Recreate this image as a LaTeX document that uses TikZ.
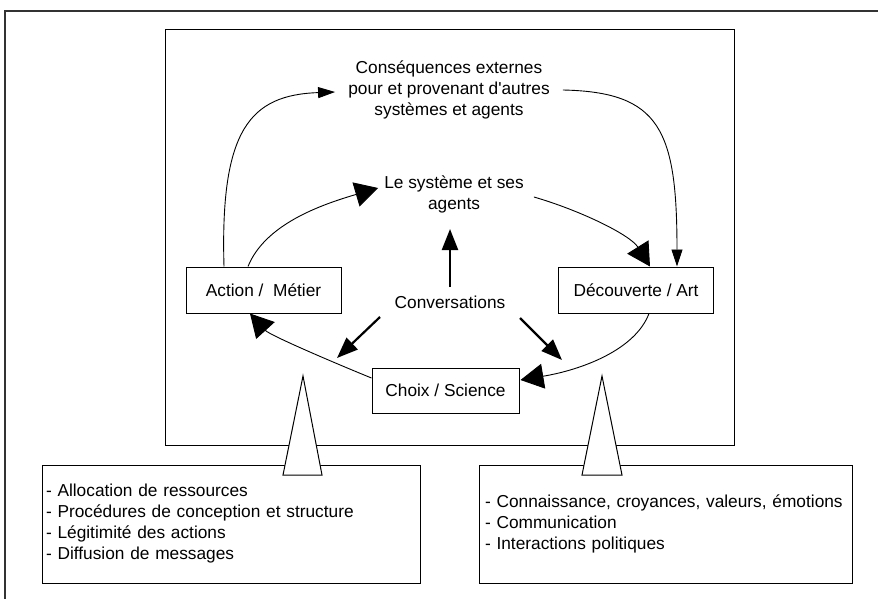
\documentclass[tikz,border=0pt]{standalone}
\usepackage{fontspec}
\setmainfont{Liberation Sans}[Ligatures=TeXOff]
\usetikzlibrary{arrows.meta,calc}

\tikzset{
  box/.style={draw,line width=1pt,minimum width=155pt,minimum height=46pt,inner sep=0pt},
  txt/.style={align=center,inner sep=0pt},
  cycleline/.style={line width=0.9pt},
  bighead/.style={-{Triangle[length=23pt,width=25pt]}},
  smallhead/.style={-{Triangle[length=17pt,width=11pt]}},
  push/.style={line width=2.2pt,-{Triangle[length=21pt,width=16pt]}},
  listbox/.style={draw,line width=1pt,align=left,minimum height=118pt,inner xsep=4pt},
  callout/.style={draw,fill=white,line width=1pt},
}

\begin{document}
\begin{tikzpicture}[x=1pt,y=-1pt,font=\fontsize{17.3}{21}\selectfont]
  \useasboundingbox (0,0) rectangle (878,599);
  \draw[line width=1.3pt,black!80] (878,11) -- (5,11) -- (5,599);
  \draw[line width=1pt] (165,30) rectangle (734,445);

  \node (cons)   at (449,90)      [txt] {Conséquences externes\\pour et provenant d'autres\\systèmes et agents};
  \node (sys)    at (454,194)     [txt] {Le système et ses\\agents};
  \node (conv)   at (450,302)     [txt] {Conversations};
  \node (action) at (263.5,290)   [box] {Action / \ Métier};
  \node (decouv) at (636,290)     [box] {Découverte / Art};
  \node (choix)  at (445.5,390.5) [box,minimum width=147pt,minimum height=45pt] {Choix / Science};

  \draw[cycleline,smallhead] ($(action.north)+(-39.5,0)$) .. controls +(-4,-137) and +(-85,3) .. ($(cons.west)+(-13,2)$);
  \draw[cycleline,smallhead] ($(cons.east)+(13,0)$) .. controls +(97,2) and +(0,-137) .. ($(decouv.north)+(41,0)$);
  \draw[cycleline,bighead] ($(action.north)+(-15.5,0)$) .. controls +(17,-42) and +(-58,17) .. ($(sys.west)+(-6,-6)$);
  \draw[cycleline,bighead] ($(sys.east)+(10,3)$) .. controls +(45,13) and +(-20,-32) .. ($(decouv.north)+(14,0)$);
  \draw[cycleline,bighead] ($(decouv.south)+(13,0)$) .. controls +(-14,37) and +(60,-10) .. ($(choix.east)+(1,-10.5)$);
  \draw[cycleline,bighead] ($(choix.west)+(0,-12.5)$) .. controls +(-32,-13) and +(20,22) .. ($(action.south)+(-13.5,0)$);

  \draw[push] ($(conv)+(0,-15)$) -- ($(conv)+(0,-73)$);
  \draw[push] ($(conv)+(-70,15)$) -- ($(conv)+(-113,56)$);
  \draw[push] ($(conv)+(70,16)$) -- ($(conv)+(112,58)$);

  \node (acts)    at (231,524)   [listbox,text width=370pt] {- Allocation de ressources\\- Procédures de conception et structure\\- Légitimité des actions\\- Diffusion de messages};
  \node (beliefs) at (665.5,524) [listbox,inner xsep=6pt,text width=361pt] {- Connaissance, croyances, valeurs, émotions\\- Communication\\- Interactions politiques};

  \draw[callout] (283,475) -- (303,376) -- (322,475) -- cycle;
  \draw[callout] (582,475) -- (602,376) -- (622,475) -- cycle;
\end{tikzpicture}
\end{document}
